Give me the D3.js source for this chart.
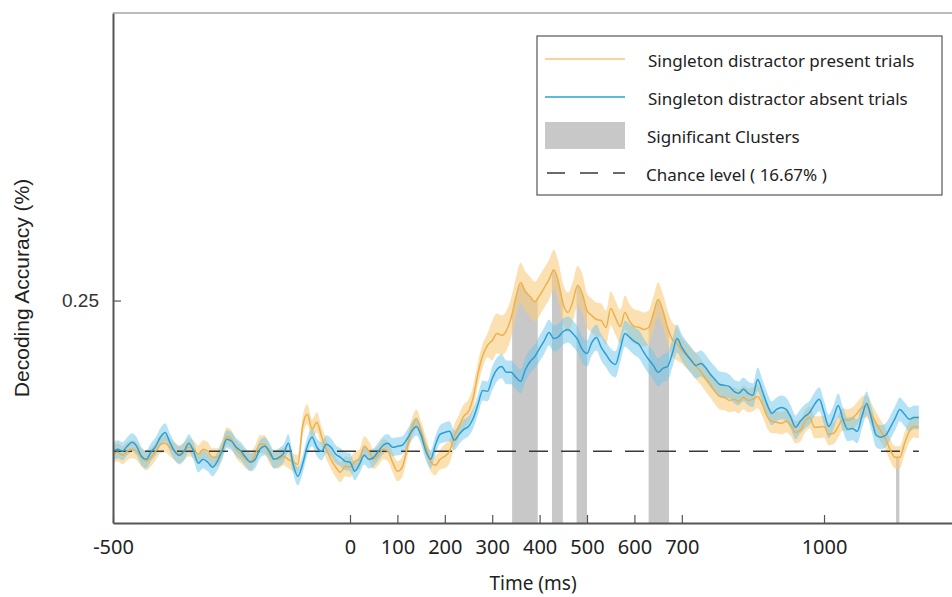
<!DOCTYPE html>
<html>
<head>
<meta charset="utf-8">
<script src="https://cdn.jsdelivr.net/npm/d3@7"></script>
<style>
  body { margin: 0; background: #fff; }
  svg { display: block; }
</style>
</head>
<body>
<div id="chart"></div>
<script>
// time grid of the decoding curves (ms), one sample every 10 ms
let tStart = -500;
let tStep = 10;

// mean decoding accuracy, singleton distractor present trials
let presentMean = [
  0.1650, 0.1661, 0.1644, 0.1667, 0.1678, 0.1667, 0.1633, 0.1611, 0.1633, 0.1667,
  0.1705, 0.1711, 0.1689, 0.1667, 0.1650, 0.1667, 0.1689, 0.1678, 0.1650, 0.1678,
  0.1667, 0.1633, 0.1633, 0.1678, 0.1749, 0.1733, 0.1678, 0.1650, 0.1622, 0.1611,
  0.1650, 0.1705, 0.1705, 0.1650, 0.1622, 0.1622, 0.1639, 0.1622, 0.1606, 0.1595,
  0.1804, 0.1871, 0.1788, 0.1827, 0.1749, 0.1678, 0.1622, 0.1578, 0.1551, 0.1584,
  0.1578, 0.1611, 0.1622, 0.1694, 0.1667, 0.1622, 0.1644, 0.1678, 0.1667, 0.1606,
  0.1556, 0.1578, 0.1678, 0.1788, 0.1843, 0.1777, 0.1694, 0.1611, 0.1589, 0.1622,
  0.1639, 0.1667, 0.1749, 0.1804, 0.1860, 0.1887, 0.1965, 0.2097, 0.2196, 0.2252,
  0.2279, 0.2318, 0.2307, 0.2334, 0.2406, 0.2517, 0.2599, 0.2550, 0.2522, 0.2494,
  0.2528, 0.2572, 0.2616, 0.2671, 0.2599, 0.2478, 0.2434, 0.2494, 0.2583, 0.2539,
  0.2445, 0.2417, 0.2395, 0.2390, 0.2351, 0.2456, 0.2406, 0.2356, 0.2434, 0.2384,
  0.2356, 0.2351, 0.2340, 0.2351, 0.2428, 0.2506, 0.2445, 0.2351, 0.2285, 0.2263,
  0.2224, 0.2196, 0.2169, 0.2136, 0.2108, 0.2069, 0.2036, 0.1998, 0.1970, 0.1965,
  0.1948, 0.1954, 0.1942, 0.1965, 0.1948, 0.1954, 0.1970, 0.1926, 0.1860, 0.1832,
  0.1827, 0.1821, 0.1832, 0.1810, 0.1771, 0.1782, 0.1832, 0.1854, 0.1799, 0.1799,
  0.1804, 0.1760, 0.1766, 0.1804, 0.1843, 0.1838, 0.1849, 0.1876, 0.1909, 0.1915,
  0.1871, 0.1821, 0.1777, 0.1733, 0.1672, 0.1633, 0.1633, 0.1711, 0.1777, 0.1804,
  0.1799
];

// mean decoding accuracy, singleton distractor absent trials
let absentMean = [
  0.1667, 0.1678, 0.1667, 0.1694, 0.1716, 0.1694, 0.1639, 0.1622, 0.1661, 0.1694,
  0.1744, 0.1771, 0.1716, 0.1667, 0.1644, 0.1667, 0.1711, 0.1667, 0.1600, 0.1622,
  0.1606, 0.1578, 0.1611, 0.1667, 0.1733, 0.1722, 0.1689, 0.1667, 0.1633, 0.1606,
  0.1622, 0.1678, 0.1694, 0.1667, 0.1622, 0.1633, 0.1655, 0.1711, 0.1595, 0.1528,
  0.1595, 0.1694, 0.1744, 0.1689, 0.1667, 0.1705, 0.1689, 0.1650, 0.1633, 0.1611,
  0.1606, 0.1556, 0.1595, 0.1644, 0.1622, 0.1633, 0.1667, 0.1700, 0.1711, 0.1689,
  0.1694, 0.1700, 0.1733, 0.1777, 0.1804, 0.1755, 0.1667, 0.1622, 0.1700, 0.1760,
  0.1771, 0.1777, 0.1727, 0.1760, 0.1788, 0.1804, 0.1849, 0.1926, 0.2003, 0.1998,
  0.2069, 0.2119, 0.2136, 0.2103, 0.2103, 0.2075, 0.2053, 0.2119, 0.2163, 0.2191,
  0.2235, 0.2279, 0.2323, 0.2290, 0.2301, 0.2329, 0.2340, 0.2318, 0.2285, 0.2230,
  0.2207, 0.2268, 0.2296, 0.2241, 0.2202, 0.2163, 0.2147, 0.2230, 0.2318, 0.2296,
  0.2274, 0.2257, 0.2213, 0.2174, 0.2141, 0.2103, 0.2125, 0.2136, 0.2207, 0.2290,
  0.2241, 0.2202, 0.2169, 0.2141, 0.2152, 0.2130, 0.2092, 0.2064, 0.2036, 0.2031,
  0.2025, 0.1998, 0.1987, 0.2009, 0.1987, 0.1976, 0.2064, 0.1998, 0.1926, 0.1876,
  0.1898, 0.1909, 0.1898, 0.1854, 0.1799, 0.1832, 0.1860, 0.1882, 0.1926, 0.1954,
  0.1882, 0.1804, 0.1854, 0.1920, 0.1843, 0.1788, 0.1793, 0.1777, 0.1860, 0.1931,
  0.1849, 0.1755, 0.1744, 0.1755, 0.1799, 0.1849, 0.1898, 0.1871, 0.1843, 0.1854,
  0.1854
];

// standard error, one value per 100 ms block starting at -500
let presentSem = [0.005, 0.005, 0.005, 0.005, 0.0055, 0.0055, 0.0055, 0.0066, 0.011,
  0.011, 0.0094, 0.0094, 0.0072, 0.0066, 0.0061, 0.0061, 0.0061, 0.0061];
let absentSem = [0.005, 0.005, 0.005, 0.005, 0.005, 0.005, 0.005, 0.0055, 0.0066,
  0.0072, 0.0072, 0.0077, 0.0072, 0.0066, 0.0066, 0.0066, 0.0066, 0.0066];

// significant clusters (ms)
let clusterStart = [342, 426, 478, 630, 1152];
let clusterEnd = [396, 449, 500, 673, 1159];

let chanceLevel = 1 / 6;
let xTicks = [-500, 0, 100, 200, 300, 400, 500, 600, 700, 1000];
let yTicks = [0.25];

let legendLabels = [
  'Singleton distractor present trials',
  'Singleton distractor absent trials',
  'Significant Clusters',
  'Chance level ( 16.67% )'
];

let width = 952;
let height = 597;
let margin = {top: 13, right: 0, bottom: 74, left: 113};

let orangeLine = '#EDB04C';
let orangeFill = '#F9CD7E';
let blueLine = '#2B9FD5';
let blueFill = '#6EC5EE';

let svg = d3.select('#chart')
    .append('svg')
    .attr('width', width)
    .attr('height', height);

let x = d3.scaleLinear()
    .domain([-500, 1270])
    .range([margin.left, width - margin.right]);

let y = d3.scaleLinear()
    .domain([0.127, 0.409])
    .range([height - margin.bottom, margin.top]);

// build point lists
let times = presentMean.map((d, i) => tStart + i * tStep);
let block = t => Math.min(17, Math.floor((t - tStart) / 100));
let present = times.map((t, i) => ({t: t, m: presentMean[i], s: presentSem[block(t)]}));
let absent = times.map((t, i) => ({t: t, m: absentMean[i], s: absentSem[block(t)]}));

function presentAt(t) {
    let i = Math.min(present.length - 2, Math.floor((t - tStart) / tStep));
    let f = (t - present[i].t) / tStep;
    return present[i].m + f * (present[i + 1].m - present[i].m);
}

// significant clusters, filled from the axis up to the present-trial mean
clusterStart.forEach((s, k) => {
    let e = clusterEnd[k];
    let pts = [{t: s, m: presentAt(s)}]
        .concat(present.filter(d => d.t > s && d.t < e))
        .concat([{t: e, m: presentAt(e)}]);
    svg.append('path')
        .datum(pts)
        .attr('fill', '#C8C8C8')
        .attr('d', d3.area()
            .x(d => x(d.t))
            .y0(y.range()[0])
            .y1(d => y(d.m)));
});

let band = d3.area()
    .curve(d3.curveMonotoneX)
    .x(d => x(d.t))
    .y0(d => y(d.m - d.s))
    .y1(d => y(d.m + d.s));

let line = d3.line()
    .curve(d3.curveMonotoneX)
    .x(d => x(d.t))
    .y(d => y(d.m));

svg.append('path').datum(present)
    .attr('fill', orangeFill).attr('fill-opacity', 0.6)
    .attr('d', band);
svg.append('path').datum(absent)
    .attr('fill', blueFill).attr('fill-opacity', 0.5)
    .attr('d', band);

// chance level
svg.append('line')
    .attr('x1', x(-500)).attr('x2', x(1200))
    .attr('y1', y(chanceLevel)).attr('y2', y(chanceLevel))
    .attr('stroke', '#3a3a3a')
    .attr('stroke-width', 1.6)
    .attr('stroke-dasharray', '19,13');

svg.append('path').datum(present)
    .attr('fill', 'none').attr('stroke', orangeLine).attr('stroke-width', 1.5)
    .attr('d', line);
svg.append('path').datum(absent)
    .attr('fill', 'none').attr('stroke', blueLine).attr('stroke-width', 1.5)
    .attr('d', line);

// axes
let xAxis = svg.append('g')
    .attr('transform', `translate(0, ${y.range()[0]})`)
    .call(d3.axisBottom(x).tickValues(xTicks).tickFormat(d => String(d))
        .tickSizeInner(-8).tickSizeOuter(0).tickPadding(17));
xAxis.select('.domain').attr('stroke', '#555').attr('stroke-width', 2);
xAxis.selectAll('.tick line').attr('stroke', '#555').attr('stroke-width', 1.2);
xAxis.selectAll('.tick text')
    .attr('fill', '#222')
    .style('font-family', '"Noto Sans", sans-serif')
    .style('font-size', '20px');

let yAxis = svg.append('g')
    .attr('transform', `translate(${x.range()[0]}, 0)`)
    .call(d3.axisLeft(y).tickValues(yTicks).tickFormat(d3.format('.2f'))
        .tickSizeInner(-8).tickSizeOuter(0).tickPadding(14));
yAxis.select('.domain').attr('stroke', '#555').attr('stroke-width', 2);
yAxis.selectAll('.tick line').attr('stroke', '#555').attr('stroke-width', 1.2);
yAxis.selectAll('.tick text')
    .attr('fill', '#333')
    .style('font-family', '"Liberation Sans", Arial, sans-serif')
    .style('font-size', '19px');

// top frame line
svg.append('line')
    .attr('x1', x.range()[0]).attr('x2', x.range()[1])
    .attr('y1', y.range()[1]).attr('y2', y.range()[1])
    .attr('stroke', '#777').attr('stroke-width', 1.2);

svg.append('text')
    .attr('transform', `translate(29, 288) rotate(-90)`)
    .attr('text-anchor', 'middle')
    .attr('fill', '#222')
    .style('font-family', '"Liberation Sans", Arial, sans-serif')
    .style('font-size', '21px')
    .text('Decoding Accuracy (%)');

svg.append('text')
    .attr('x', 533)
    .attr('y', 590)
    .attr('text-anchor', 'middle')
    .attr('fill', '#222')
    .style('font-family', '"Noto Sans", sans-serif')
    .style('font-size', '19px')
    .text('Time (ms)');

// legend
let legend = svg.append('g').attr('transform', 'translate(537, 36)');
legend.append('rect')
    .attr('width', 405).attr('height', 159)
    .attr('fill', '#fff').attr('stroke', '#555').attr('stroke-width', 1.2);

let rowY = [23, 61, 99, 137];
legend.append('line').attr('x1', 8).attr('x2', 88).attr('y1', rowY[0]).attr('y2', rowY[0])
    .attr('stroke', '#F6C47A').attr('stroke-width', 1.5);
legend.append('line').attr('x1', 8).attr('x2', 88).attr('y1', rowY[1]).attr('y2', rowY[1])
    .attr('stroke', blueLine).attr('stroke-width', 1.5);
legend.append('rect').attr('x', 8).attr('y', rowY[2] - 13).attr('width', 80).attr('height', 27)
    .attr('fill', '#C8C8C8');
legend.append('line').attr('x1', 10).attr('x2', 88).attr('y1', rowY[3]).attr('y2', rowY[3])
    .attr('stroke', '#3a3a3a').attr('stroke-width', 1.6).attr('stroke-dasharray', '18,15');

legend.selectAll('.label')
    .data(legendLabels)
    .enter()
    .append('text')
        .attr('class', 'label')
        .attr('x', (d, i) => i < 2 ? 111 : (i === 2 ? 110 : 109))
        .attr('y', (d, i) => rowY[i] + 3)
        .attr('dominant-baseline', 'middle')
        .attr('fill', '#222')
        .style('font-family', '"Noto Sans", sans-serif')
        .style('font-size', '17px')
        .text(d => d);
</script>
</body>
</html>
